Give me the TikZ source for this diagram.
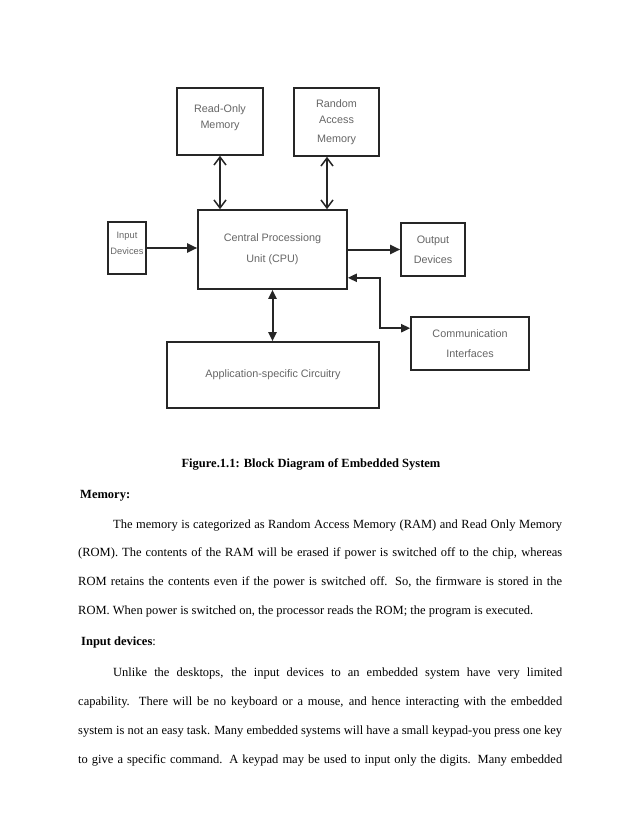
\documentclass[tikz,border=0pt]{standalone}
\usepackage{fontspec}
\setmainfont{Liberation Serif}
\newfontfamily\diagfont{Liberation Sans}
\usetikzlibrary{arrows.meta}
\begin{document}
\begin{tikzpicture}[x=1pt,y=-1pt,
  blk/.style={draw=black!85, line width=1.6pt, inner sep=0pt, align=center,
    font=\diagfont\fontsize{10.8}{16}\selectfont, text=black!60},
  bar/.style={line width=2pt, draw=black!85},
  vv/.style={bar, {Straight Barb[length=8pt,width=12pt,line width=1.5pt]}-{Straight Barb[length=8pt,width=12pt,line width=1.5pt]}},
  tt/.style={bar, -{Triangle[length=10pt,width=9pt]}},
  ttb/.style={bar, {Triangle[length=9pt,width=8pt]}-{Triangle[length=9pt,width=8pt]}},
  body/.style={anchor=base west, inner sep=0pt, font=\fontsize{12.5}{15}\selectfont},
  head/.style={anchor=base west, inner sep=0pt, font=\bfseries\fontsize{12.5}{15}\selectfont},
]
\useasboundingbox[fill=white] (0,0) rectangle (638,826);

% blocks
\node[blk, minimum width=86pt, minimum height=67pt] (rom) at (220,121.5) {Read-Only\\Memory\\[-6pt]};
\node[blk, minimum width=85pt, minimum height=68pt] (ram) at (336.5,122) {Random\\Access\\[3pt]Memory};
\node[blk, minimum width=38pt, minimum height=52pt, font=\diagfont\fontsize{9.3}{16}\selectfont] (inp) at (127,248) {Input\\Devices\\[-6pt]};
\node[blk, minimum width=149pt, minimum height=79pt] (cpu) at (272.5,249.5) {Central Processiong\\[5pt]Unit (CPU)};
\node[blk, minimum width=64pt, minimum height=53pt] (out) at (433,249.5) {Output\\[4pt]Devices};
\node[blk, minimum width=118pt, minimum height=53pt] (com) at (470,343.5) {Communication\\[4pt]Interfaces};
\node[blk, minimum width=212pt, minimum height=66pt] (asc) at (273,375) {Application-specific Circuitry};

% connectors
\coordinate (r1) at ([xshift=-9.5pt]ram.south);
\draw[vv] (rom.south) -- (rom.south |- cpu.north);
\draw[vv] (r1) -- (r1 |- cpu.north);
\draw[tt] (inp.east) -- (inp.east -| cpu.west);
\draw[tt] (cpu.east) -- (cpu.east -| out.west);
\draw[ttb] (cpu.south) -- (cpu.south |- asc.north);
\coordinate (c1) at ([yshift=12pt]cpu.south east);
\coordinate (c2) at ([yshift=-12pt]com.north west);
\draw[ttb] (c1) -- ++(32,0) |- (c2);

% caption and text
\node[anchor=base, inner sep=0pt, font=\bfseries\fontsize{12.5}{15}\selectfont] (cap) at (311,467) {Figure.1.1: Block Diagram of Embedded System};
\node[head] (h1) at (80,498) {Memory:};
\node[body] (l1) at (113,528) {\makebox[449pt][s]{The memory is categorized as Random Access Memory (RAM) and Read Only Memory}};
\node[body] (l2) at (78,556) {\makebox[484pt][s]{(ROM). The contents of the RAM will be erased if power is switched off to the chip, whereas}};
\node[body] (l3) at (78,585) {\makebox[484pt][s]{ROM retains the contents even if the power is switched off. So, the firmware is stored in the}};
\node[body] (l4) at (78,614) {ROM. When power is switched on, the processor reads the ROM; the program is executed.};
\node[body] (h2) at (81,645) {\textbf{Input devices}:};
\node[body] (l5) at (113,676) {\makebox[449pt][s]{Unlike the desktops, the input devices to an embedded system have very limited}};
\node[body] (l6) at (78,705) {\makebox[484pt][s]{capability. There will be no keyboard or a mouse, and hence interacting with the embedded}};
\node[body] (l7) at (78,734) {\makebox[484pt][s]{system is not an easy task. Many embedded systems will have a small keypad-you press one key}};
\node[body] (l8) at (78,763) {\makebox[484pt][s]{to give a specific command. A keypad may be used to input only the digits. Many embedded}};
\end{tikzpicture}
\end{document}
